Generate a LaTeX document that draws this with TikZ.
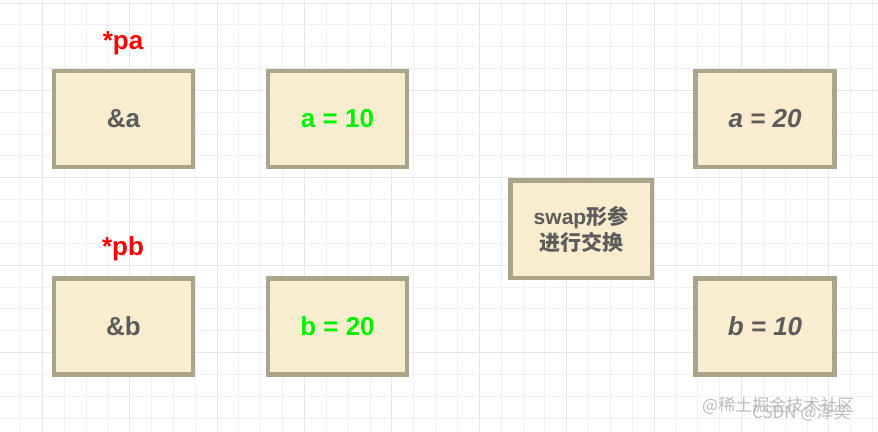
\documentclass[tikz,border=0pt]{standalone}
\usepackage{fontspec}
\setmainfont{Liberation Sans}
\newfontfamily\cjk{Noto Sans CJK SC}
\definecolor{boxfill}{HTML}{F8EDCE}
\definecolor{boxline}{HTML}{A9A48A}
\definecolor{txtgray}{HTML}{5C5C5C}
\definecolor{gridminor}{HTML}{F0F0F0}
\definecolor{gridmajor}{HTML}{E6E6E6}
\definecolor{ptrred}{HTML}{FF0000}
\definecolor{valgreen}{HTML}{00F000}
\definecolor{wmgray}{HTML}{BDBDBD}
\tikzset{
  memcell/.style={draw=boxline, fill=boxfill, line width=4.5pt, minimum width=139pt, minimum height=96pt, inner sep=0pt, text=txtgray, font=\fontsize{26}{29}\selectfont\bfseries},
  swapcell/.style={memcell, minimum width=141.5pt, minimum height=97.5pt, align=center, font=\fontsize{21}{26}\selectfont\bfseries},
  ptrlabel/.style={text=ptrred, inner sep=0pt, font=\fontsize{26}{29}\selectfont\bfseries},
  wmark/.style={text=wmgray, inner sep=0pt, font=\fontsize{17}{20}\selectfont\cjk}
}
\begin{document}
\begin{tikzpicture}[x=1pt,y=-1pt]
\useasboundingbox (0,0) rectangle (878,431);
\fill[white] (0,0) rectangle (878,431);
% grid
\foreach \k in {-1,...,39} {
  \pgfmathsetmacro{\gx}{42.3+21.85*\k}
  \pgfmathtruncatemacro{\m}{mod(\k+4,4)}
  \ifnum\m=0
    \draw[gridmajor, line width=1pt] (\gx,0) -- (\gx,431);
  \else
    \draw[gridminor, line width=1pt] (\gx,0) -- (\gx,431);
  \fi
}
\foreach \k in {0,...,19} {
  \pgfmathsetmacro{\gy}{3+21.85*\k}
  \pgfmathtruncatemacro{\m}{mod(\k,4)}
  \ifnum\m=0
    \draw[gridmajor, line width=1pt] (0,\gy) -- (878,\gy);
  \else
    \draw[gridminor, line width=1pt] (0,\gy) -- (878,\gy);
  \fi
}
% cells
\node[memcell] (pa) at (123.5,119) {\&a};
\node[memcell] (a) at (337.5,119) {\textcolor{valgreen}{a = 10}};
\node[memcell] (a2) at (765,119) {\itshape a = 20};
\node[memcell] (pb) at (123.5,326.5) {\&b};
\node[memcell] (b) at (337.5,326.5) {\textcolor{valgreen}{b = 20}};
\node[memcell] (b2) at (765,326.5) {\itshape b = 10};
\node[swapcell] (swap) at (581,229) {swap{\cjk\bfseries 形参}\\{\cjk\bfseries 进行交换}};
% pointer labels
\node[ptrlabel] (lpa) at (123,43) {*pa};
\node[ptrlabel] (lpb) at (123,249) {*pb};
% watermark
\node[wmark, anchor=west] (wm1) at (702,406) {@稀土掘金技术社区};
\node[wmark, anchor=west] (wm2) at (752,413) {CSDN @泽奕};
\end{tikzpicture}
\end{document}
